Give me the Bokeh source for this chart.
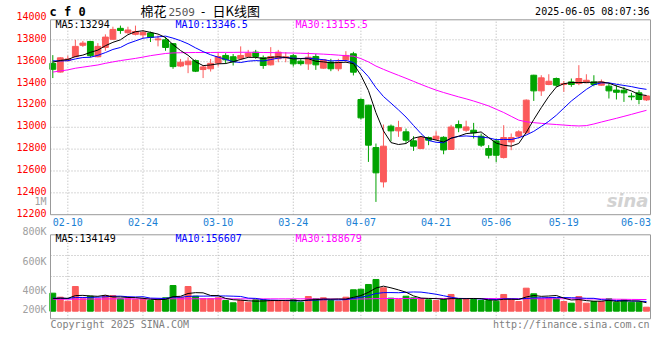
from bokeh.plotting import figure
from bokeh.models import Range1d, Label, ColumnDataSource
from bokeh.embed import file_html
from bokeh.resources import INLINE
from bokeh.core.properties import value

# ---------------- data ----------------
dates = ["02-06", "02-07", "02-10", "02-11", "02-12", "02-13", "02-14", "02-17", "02-18", "02-19",
         "02-20", "02-21", "02-24", "02-25", "02-26", "02-27", "02-28", "03-03", "03-04", "03-05",
         "03-06", "03-07", "03-10", "03-11", "03-12", "03-13", "03-14", "03-17", "03-18", "03-19",
         "03-20", "03-21", "03-24", "03-25", "03-26", "03-27", "03-28", "03-31", "04-01", "04-02",
         "04-03", "04-07", "04-08", "04-09", "04-10", "04-11", "04-14", "04-15", "04-16", "04-17",
         "04-18", "04-21", "04-22", "04-23", "04-24", "04-25", "04-28", "04-29", "04-30", "05-06",
         "05-07", "05-08", "05-09", "05-12", "05-13", "05-14", "05-15", "05-16", "05-19", "05-20",
         "05-21", "05-22", "05-23", "05-26", "05-27", "05-28", "05-29", "05-30", "06-03", "06-04"]

opens = [13585, 13505, 13610, 13645, 13750, 13785, 13645, 13730, 13805, 13905,
         13865, 13850, 13845, 13862, 13800, 13800, 13765, 13560, 13572, 13610,
         13528, 13535, 13588, 13657, 13645, 13627, 13648, 13687, 13635, 13571,
         13627, 13635, 13655, 13605, 13580, 13647, 13541, 13596, 13535, 13617,
         13672, 13254, 13202, 12814, 12500, 13010, 12967, 12958, 12876, 12805,
         12906, 12891, 12908, 12797, 13025, 12973, 12973, 12918, 12805, 12875,
         12723, 12866, 12918, 12949, 13476, 13333, 13391, 13446, 13391, 13415,
         13400, 13415, 13415, 13385, 13376, 13340, 13339, 13285, 13315, 13250]
highs = [13660, 13640, 13655, 13800, 13790, 13790, 13770, 13850, 13920, 13930,
         13920, 13930, 13885, 13875, 13840, 13825, 13770, 13625, 13640, 13620,
         13565, 13625, 13687, 13678, 13670, 13740, 13708, 13708, 13657, 13733,
         13708, 13687, 13672, 13626, 13687, 13672, 13620, 13626, 13626, 13696,
         13690, 13265, 13205, 12851, 13025, 13025, 13059, 12988, 12918, 12910,
         12915, 12964, 12918, 13022, 13062, 13060, 13040, 12943, 12836, 12897,
         13019, 12943, 12973, 13255, 13480, 13476, 13485, 13455, 13424, 13446,
         13568, 13485, 13476, 13437, 13400, 13385, 13370, 13315, 13339, 13293]
lows = [13450, 13500, 13600, 13640, 13735, 13640, 13640, 13700, 13800, 13855,
        13855, 13840, 13815, 13780, 13740, 13700, 13535, 13550, 13495, 13505,
        13450, 13510, 13556, 13580, 13565, 13615, 13640, 13626, 13535, 13565,
        13595, 13595, 13556, 13565, 13525, 13525, 13535, 13513, 13513, 13596,
        13474, 13070, 12683, 12317, 12449, 12870, 12912, 12857, 12784, 12800,
        12836, 12880, 12753, 12795, 12955, 12958, 12897, 12820, 12714, 12680,
        12714, 12790, 12897, 12940, 13241, 13287, 13385, 13370, 13324, 13370,
        13385, 13400, 13375, 13380, 13263, 13254, 13232, 13247, 13211, 13241]
closes = [13530, 13635, 13625, 13740, 13770, 13655, 13740, 13825, 13895, 13885,
          13890, 13876, 13868, 13822, 13808, 13730, 13555, 13595, 13605, 13513,
          13552, 13585, 13647, 13617, 13598, 13657, 13678, 13648, 13565, 13647,
          13687, 13645, 13580, 13582, 13641, 13571, 13617, 13535, 13596, 13657,
          13504, 13086, 12836, 12583, 12827, 12967, 12997, 12882, 12827, 12906,
          12882, 12918, 12792, 13002, 12995, 13003, 12949, 12836, 12744, 12744,
          12906, 12906, 12958, 13248, 13333, 13452, 13421, 13385, 13400, 13391,
          13446, 13430, 13391, 13415, 13333, 13320, 13315, 13278, 13254, 13287]
# closes of the 9 sessions before the window (for MA5 / MA10 at its start)
prior_closes = [13650, 13600, 13580, 13640, 13630, 13560, 13580, 13605, 13705]
# MA30 of close
ma30 = [13505, 13515, 13525, 13540, 13550, 13560, 13570, 13585, 13598, 13610,
        13620, 13630, 13642, 13655, 13665, 13675, 13680, 13682, 13683, 13684,
        13684, 13684, 13685, 13685, 13685, 13686, 13686, 13685, 13684, 13683,
        13682, 13680, 13679, 13677, 13675, 13672, 13669, 13665, 13660, 13655,
        13650, 13628, 13598, 13560, 13530, 13502, 13475, 13448, 13420, 13392,
        13365, 13340, 13318, 13298, 13278, 13260, 13240, 13218, 13195, 13165,
        13135, 13100, 13065, 13050, 13042, 13036, 13030, 13025, 13020, 13015,
        13012, 13015, 13030, 13048, 13065, 13082, 13100, 13118, 13137, 13155]

volumes = [292000, 227000, 162000, 400000, 201000, 243000, 201000, 254000, 254000, 201000,
           201000, 190000, 201000, 173000, 173000, 217000, 416000, 227000, 400000, 243000,
           201000, 201000, 217000, 173000, 136000, 173000, 146000, 185000, 185000, 173000,
           173000, 162000, 185000, 146000, 238000, 201000, 217000, 173000, 162000, 227000,
           347000, 356000, 433000, 514000, 379000, 211000, 190000, 243000, 217000, 201000,
           185000, 173000, 190000, 271000, 190000, 190000, 190000, 173000, 173000, 162000,
           271000, 190000, 157000, 373000, 282000, 201000, 217000, 201000, 157000, 130000,
           238000, 130000, 157000, 157000, 201000, 146000, 185000, 146000, 146000, 65000]
prior_volumes = [230000, 215000, 225000, 210000, 225000, 170000, 185000, 175000, 183000]
vol_ma30 = [192000, 193000, 194000, 195000, 196000, 197000, 198000, 199000, 200000, 200000,
            200000, 200000, 200000, 201000, 201000, 201000, 201000, 201000, 201000, 201000,
            201000, 201000, 201000, 201000, 200000, 200000, 200000, 200000, 200000, 200000,
            200000, 200000, 200000, 200000, 200000, 199000, 198000, 197000, 196000, 195000,
            196000, 198000, 200000, 203000, 205000, 206000, 206000, 206000, 206000, 206000,
            206000, 206000, 206000, 206000, 206000, 206000, 206000, 205000, 205000, 204000,
            204000, 203000, 202000, 202000, 202000, 201000, 201000, 201000, 201000, 200000,
            200000, 199000, 199000, 198000, 196000, 194000, 193000, 191000, 190000, 189000]

tick_dates = ["02-10", "02-24", "03-10", "03-24", "04-07", "04-21", "05-06", "05-19", "06-03"]
grid_dates = ["02-10", "02-24", "03-10", "03-24", "04-07", "04-21", "05-06", "05-19"]
price_ticks = [12200, 12400, 12600, 12800, 13000, 13200, 13400, 13600, 13800, 14000]
vol_labels = ["1M", "800K", "600K", "400K", "200K"]

title_code = "c f 0"
title_name = ["棉花", "2509", "-", "日K线图"]
stamp = "2025-06-05 08:07:36"
price_ma_text = ["MA5:13294", "MA10:13346.5", "MA30:13155.5"]
vol_ma_text = ["MA5:134149", "MA10:156607", "MA30:188679"]
footer_left = "Copyright 2025 SINA.COM"
footer_right = "http://finance.sina.com.cn"

# ---------------- layout (pixels of the 660x360 canvas) ----------------
W, H = 660, 360
X_C0, X_STEP = 52.3, 7.515          # centre of first session, spacing
PANEL_L, PANEL_R = 50, 650
P_BASE_PX, P_K = 214.2, 0.1093      # pixel row of 12200, px per price unit
P_TOP_PX = 19.3                     # top border of price panel
V_BASE_PX, V_K = 310.7, 1 / 16200   # pixel row of zero volume, px per lot
V_TOP_PX, V_BOT_PX = 234.3, 318.3   # volume panel border


def x_at(px):
    return (px - X_C0) / X_STEP


def price_at(py):
    return price_ticks[0] + (P_BASE_PX - py) / P_K


def vol_at(py):
    return (V_BASE_PX - py) / V_K


MONO = "DejaVu Sans Mono"
CJK = "Noto Sans CJK SC"
RED = "#fb5b5b"
GREEN = "#00a300"
GRID = "#b0b0b0"
BORDER = "#999999"
DATE_BLUE = "#1a7fd4"
LABEL_GRAY = "#a0a0a0"

n = len(dates)
idx = list(range(n))
cols = [RED if c >= o else GREEN for o, c in zip(opens, closes)]
tops = [max(o, c) for o, c in zip(opens, closes)]
bots = [min(o, c) for o, c in zip(opens, closes)]


def moving(prior, vals, k):
    allv = prior + vals
    off = len(prior)
    return [sum(allv[i + off - k + 1:i + off + 1]) / k for i in range(len(vals))]


ma5 = moving(prior_closes, closes, 5)
ma10 = moving(prior_closes, closes, 10)
vma5 = moving(prior_volumes, volumes, 5)
vma10 = moving(prior_volumes, volumes, 10)
tick_idx = [dates.index(d) for d in tick_dates]
grid_idx = [dates.index(d) for d in grid_dates]

src = ColumnDataSource(dict(x=idx, h=highs, l=lows, top=tops, bot=bots, col=cols,
                            v=volumes, zero=[0] * n))

p = figure(width=W, height=H, x_range=Range1d(x_at(0), x_at(W)),
           y_range=Range1d(price_at(H), price_at(0)),
           output_backend="svg", toolbar_location=None,
           x_axis_type=None, y_axis_type=None, min_border=0)
p.min_border_left = p.min_border_right = p.min_border_top = p.min_border_bottom = 0
p.extra_y_ranges = {"vol": Range1d(vol_at(H), vol_at(0))}
p.outline_line_color = None
p.background_fill_color = "white"
p.border_fill_color = "white"

xl, xr = x_at(PANEL_L), x_at(PANEL_R)
p_top = price_at(P_TOP_PX)
v_top, v_bot = vol_at(V_TOP_PX), vol_at(V_BOT_PX)

# grid lines
inner_ticks = price_ticks[1:-1]
p.segment(x0=[xl] * len(inner_ticks), x1=[xr] * len(inner_ticks), y0=inner_ticks, y1=inner_ticks,
          line_color=GRID, line_dash="1 2", line_width=1)
p.segment(x0=grid_idx, x1=grid_idx, y0=[price_ticks[0]] * len(grid_idx), y1=[p_top] * len(grid_idx),
          line_color=GRID, line_dash="1 2", line_width=1)
vgrid_y = [vol_at(255), vol_at(276)]
p.segment(x0=[xl] * 2, x1=[xr] * 2, y0=vgrid_y, y1=vgrid_y, y_range_name="vol",
          line_color=GRID, line_dash="1 2", line_width=1)
p.segment(x0=grid_idx, x1=grid_idx, y0=[v_bot] * len(grid_idx), y1=[v_top] * len(grid_idx),
          y_range_name="vol", line_color=GRID, line_dash="1 2", line_width=1)

# candles
p.segment(x0="x", y0="l", x1="x", y1="h", line_color="col", line_width=1, source=src)
p.vbar(x="x", width=0.78, top="top", bottom="bot", fill_color="col", line_color="col",
       line_width=1, source=src)
p.line(idx, ma30, line_color="#ff00ff", line_width=1)
p.line(idx, ma10, line_color="#0000ff", line_width=1)
p.line(idx, ma5, line_color="#000000", line_width=1)

# volume
p.vbar(x="x", width=0.78, top="v", bottom="zero", fill_color="col", line_color="col",
       line_width=1, source=src, y_range_name="vol")
p.line(idx, vol_ma30, line_color="#ff00ff", line_width=1, y_range_name="vol")
p.line(idx, vma10, line_color="#0000ff", line_width=1, y_range_name="vol")
p.line(idx, vma5, line_color="#000000", line_width=1, y_range_name="vol")

# panel borders
p.quad(left=[xl], right=[xr], bottom=[price_ticks[0]], top=[p_top], fill_color=None,
       line_color=BORDER, line_width=1)
p.quad(left=[xl], right=[xr], bottom=[v_bot], top=[v_top], fill_color=None,
       line_color=BORDER, line_width=1, y_range_name="vol")

# axis tick labels
p.text(x=[xl] * len(price_ticks), y=price_ticks, text=[str(t) for t in price_ticks],
       text_font=value(MONO), text_font_size=value("10px"), text_color="#ff0000",
       text_align="right", text_baseline="middle", x_offset=-4, y_offset=-2)
date_shift = [0] * (len(tick_dates) - 1) + [-3]
p.text(x=tick_idx, y=[price_ticks[0]] * len(tick_idx), text=tick_dates,
       text_font=value(MONO), text_font_size=value("10px"), text_color=DATE_BLUE,
       text_align="center", text_baseline="middle", x_offset=date_shift, y_offset=7.5)


def lab(px, py, text, color="#000000", size="10px", font=MONO, align="left", style="normal"):
    p.add_layout(Label(x=px, y=H - py, x_units="screen", y_units="screen", text=text,
                       text_color=color, text_font=font, text_font_size=size,
                       text_align=align, text_baseline="middle", text_font_style=style))


for t, py in zip(vol_labels, [200.7, 230.7, 260.7, 290, 309.3]):
    lab(46, py, t, LABEL_GRAY, align="right")

lab(55, 24, price_ma_text[0], "#000000")
lab(175, 24, price_ma_text[1], "#0000ff")
lab(295, 24, price_ma_text[2], "#ff00ff")
lab(55, 238.3, vol_ma_text[0], "#000000")
lab(175, 238.3, vol_ma_text[1], "#0000ff")
lab(295, 238.3, vol_ma_text[2], "#ff00ff")

lab(49, 11.5, title_code, "#000000", "12px", MONO, "left", "bold")
lab(140, 10, title_name[0], "#000000", "13px", CJK)
lab(168, 11, title_name[1], "#555555", "11px", MONO)
lab(199, 11, title_name[2], "#000000", "12px", MONO)
lab(212, 10, title_name[3], "#000000", "13px", CJK)
lab(649, 11.2, stamp, "#000000", "10px", MONO, "right")

lab(648, 200, "sina", "#d2d2d2", "18px", "DejaVu Sans", "right", "bold italic")

lab(50, 323.5, footer_left, "#808080", "10px", MONO)
lab(649, 324, footer_right, "#808080", "10px", MONO, "right")

open("out.html", "w").write(file_html(p, INLINE))
